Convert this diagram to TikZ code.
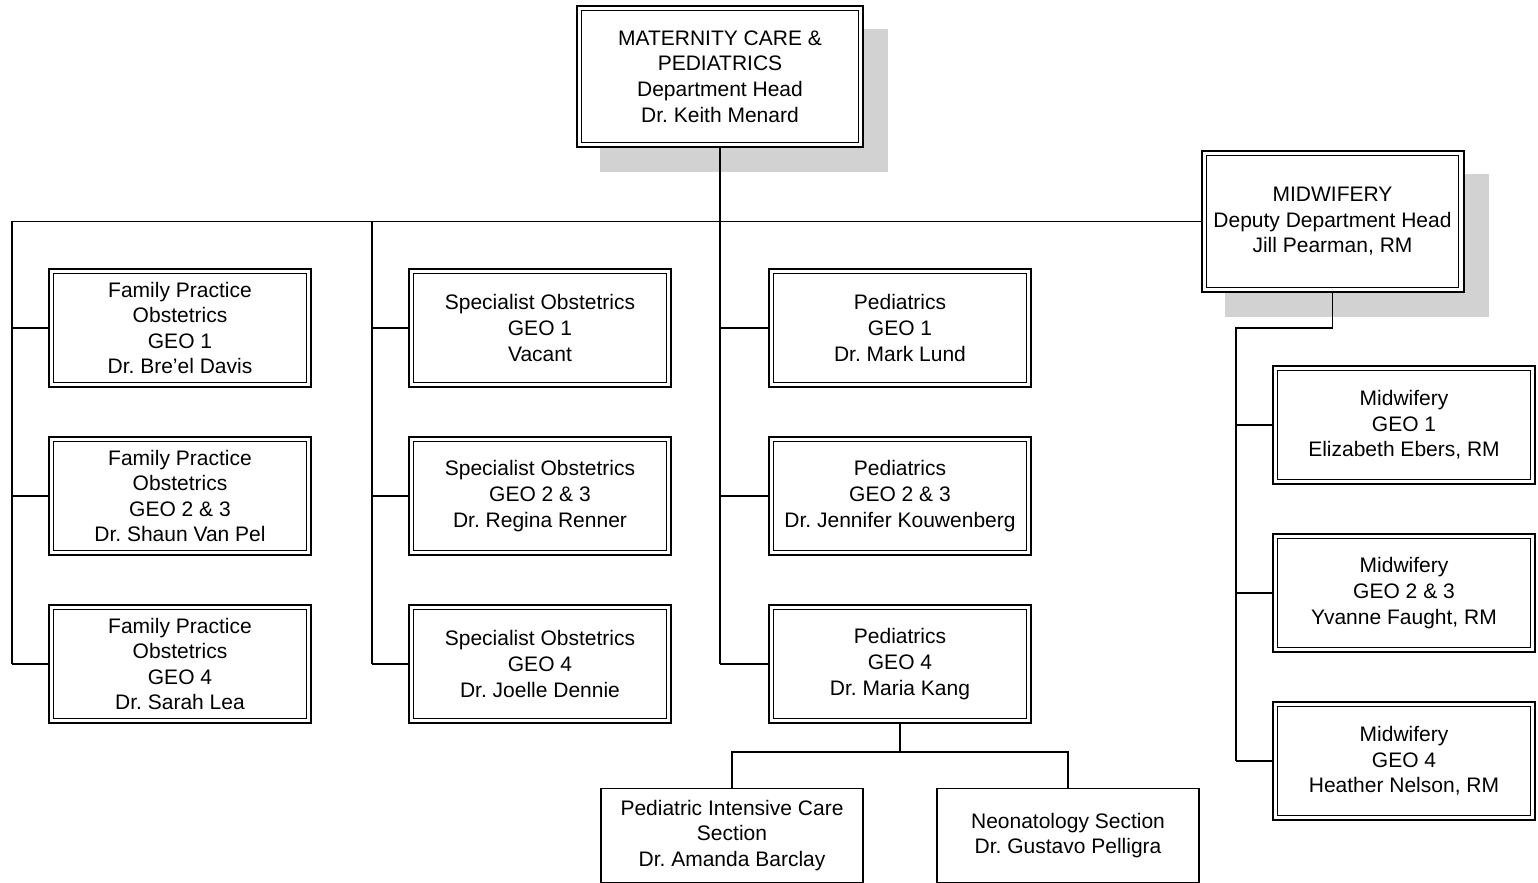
\documentclass[tikz,border=0pt]{standalone}
\usepackage{fontspec}
\setmainfont{Liberation Sans}
\frenchspacing
\usetikzlibrary{positioning, calc, backgrounds}
\tikzset{
  unit box/.style={draw, fill=white, line width=1pt, minimum width=131pt, minimum height=59pt,
    align=center, inner sep=0pt, font=\fontsize{10.5}{12.8}\selectfont,
    path picture={\draw[line width=0.5pt]
      ([shift={(2.3pt,2.3pt)}]path picture bounding box.south west) rectangle
      ([shift={(-2.3pt,-2.3pt)}]path picture bounding box.north east);}},
  head box/.style={unit box, minimum height=70.5pt},
  section box/.style={draw, fill=white, line width=0.8pt, minimum width=131pt, minimum height=47pt,
    align=center, inner sep=0pt, font=\fontsize{10.5}{12.8}\selectfont},
  shade/.style={fill=gray!35, draw=none},
  link/.style={line width=0.8pt}
}

\begin{document}
\begin{tikzpicture}[x=0.5pt, y=-0.5pt]
\useasboundingbox (0,0) rectangle (1538,883);
% === HEADS ===
\node[head box, minimum width=143pt] (top) at (720,76.5)
  {MATERNITY CARE \&\\PEDIATRICS\\Department Head\\Dr. Keith Menard};
\node[head box] (mw) at (1332.5,221.5)
  {MIDWIFERY\\Deputy Department Head\\Jill Pearman, RM};
\begin{scope}[on background layer]
  \foreach \h in {top, mw}
    \fill[shade] ([shift={(12pt,-12pt)}]\h.south west) rectangle ([shift={(12pt,-12pt)}]\h.north east);
\end{scope}
% === FAMILY PRACTICE ===
\node[unit box] (fp1) at (180,328) {Family Practice\\Obstetrics\\GEO 1\\Dr. Bre'el Davis};
\node[unit box] (fp2) at (180,496) {Family Practice\\Obstetrics\\GEO 2 \& 3\\Dr. Shaun Van Pel};
\node[unit box] (fp3) at (180,664) {Family Practice\\Obstetrics\\GEO 4\\Dr. Sarah Lea};
% === SPECIALIST OBSTETRICS ===
\node[unit box] (so1) at (540,328) {Specialist Obstetrics\\GEO 1\\Vacant};
\node[unit box] (so2) at (540,496) {Specialist Obstetrics\\GEO 2 \& 3\\Dr. Regina Renner};
\node[unit box] (so3) at (540,664) {Specialist Obstetrics\\GEO 4\\Dr. Joelle Dennie};
% === PEDIATRICS ===
\node[unit box] (pg1) at (900,328) {Pediatrics\\GEO 1\\Dr. Mark Lund};
\node[unit box] (pg2) at (900,496) {Pediatrics\\GEO 2 \& 3\\Dr. Jennifer Kouwenberg};
\node[unit box] (pg3) at (900,664) {Pediatrics\\GEO 4\\Dr. Maria Kang};
\node[section box] (picu) at (732,835.5) {Pediatric Intensive Care\\Section\\Dr. Amanda Barclay};
\node[section box] (neo) at (1068,835.5) {Neonatology Section\\Dr. Gustavo Pelligra};
% === MIDWIFERY ===
\node[unit box] (mid1) at (1404,425) {Midwifery\\GEO 1\\Elizabeth Ebers, RM};
\node[unit box] (mid2) at (1404,593) {Midwifery\\GEO 2 \& 3\\Yvanne Faught, RM};
\node[unit box] (mid3) at (1404,761) {Midwifery\\GEO 4\\Heather Nelson, RM};
% === CONNECTORS ===
\coordinate (busfp) at (12,221.5);
\coordinate (busso) at (372,221.5);
\coordinate (busmw) at (1236,328);
\draw[link] (busfp) -- (mw.west);
\draw[link] (top.south) -- (top.south |- pg3.west);
\draw[link] (busfp) -- (busfp |- fp3.west);
\draw[link] (busso) -- (busso |- so3.west);
\foreach \row in {1,2,3} {
  \draw[link] (busfp |- fp\row.west) -- (fp\row.west);
  \draw[link] (busso |- so\row.west) -- (so\row.west);
  \draw[link] (top.south |- pg\row.west) -- (pg\row.west);
  \draw[link] (busmw |- mid\row.west) -- (mid\row.west);
}
\draw[link] (mw.south) |- (busmw) -- (busmw |- mid3.west);
\draw[link] (pg3.south) -- ++(0,28) -| (picu.north);
\draw[link] (pg3.south) ++(0,28) -| (neo.north);
\end{tikzpicture}
\end{document}
